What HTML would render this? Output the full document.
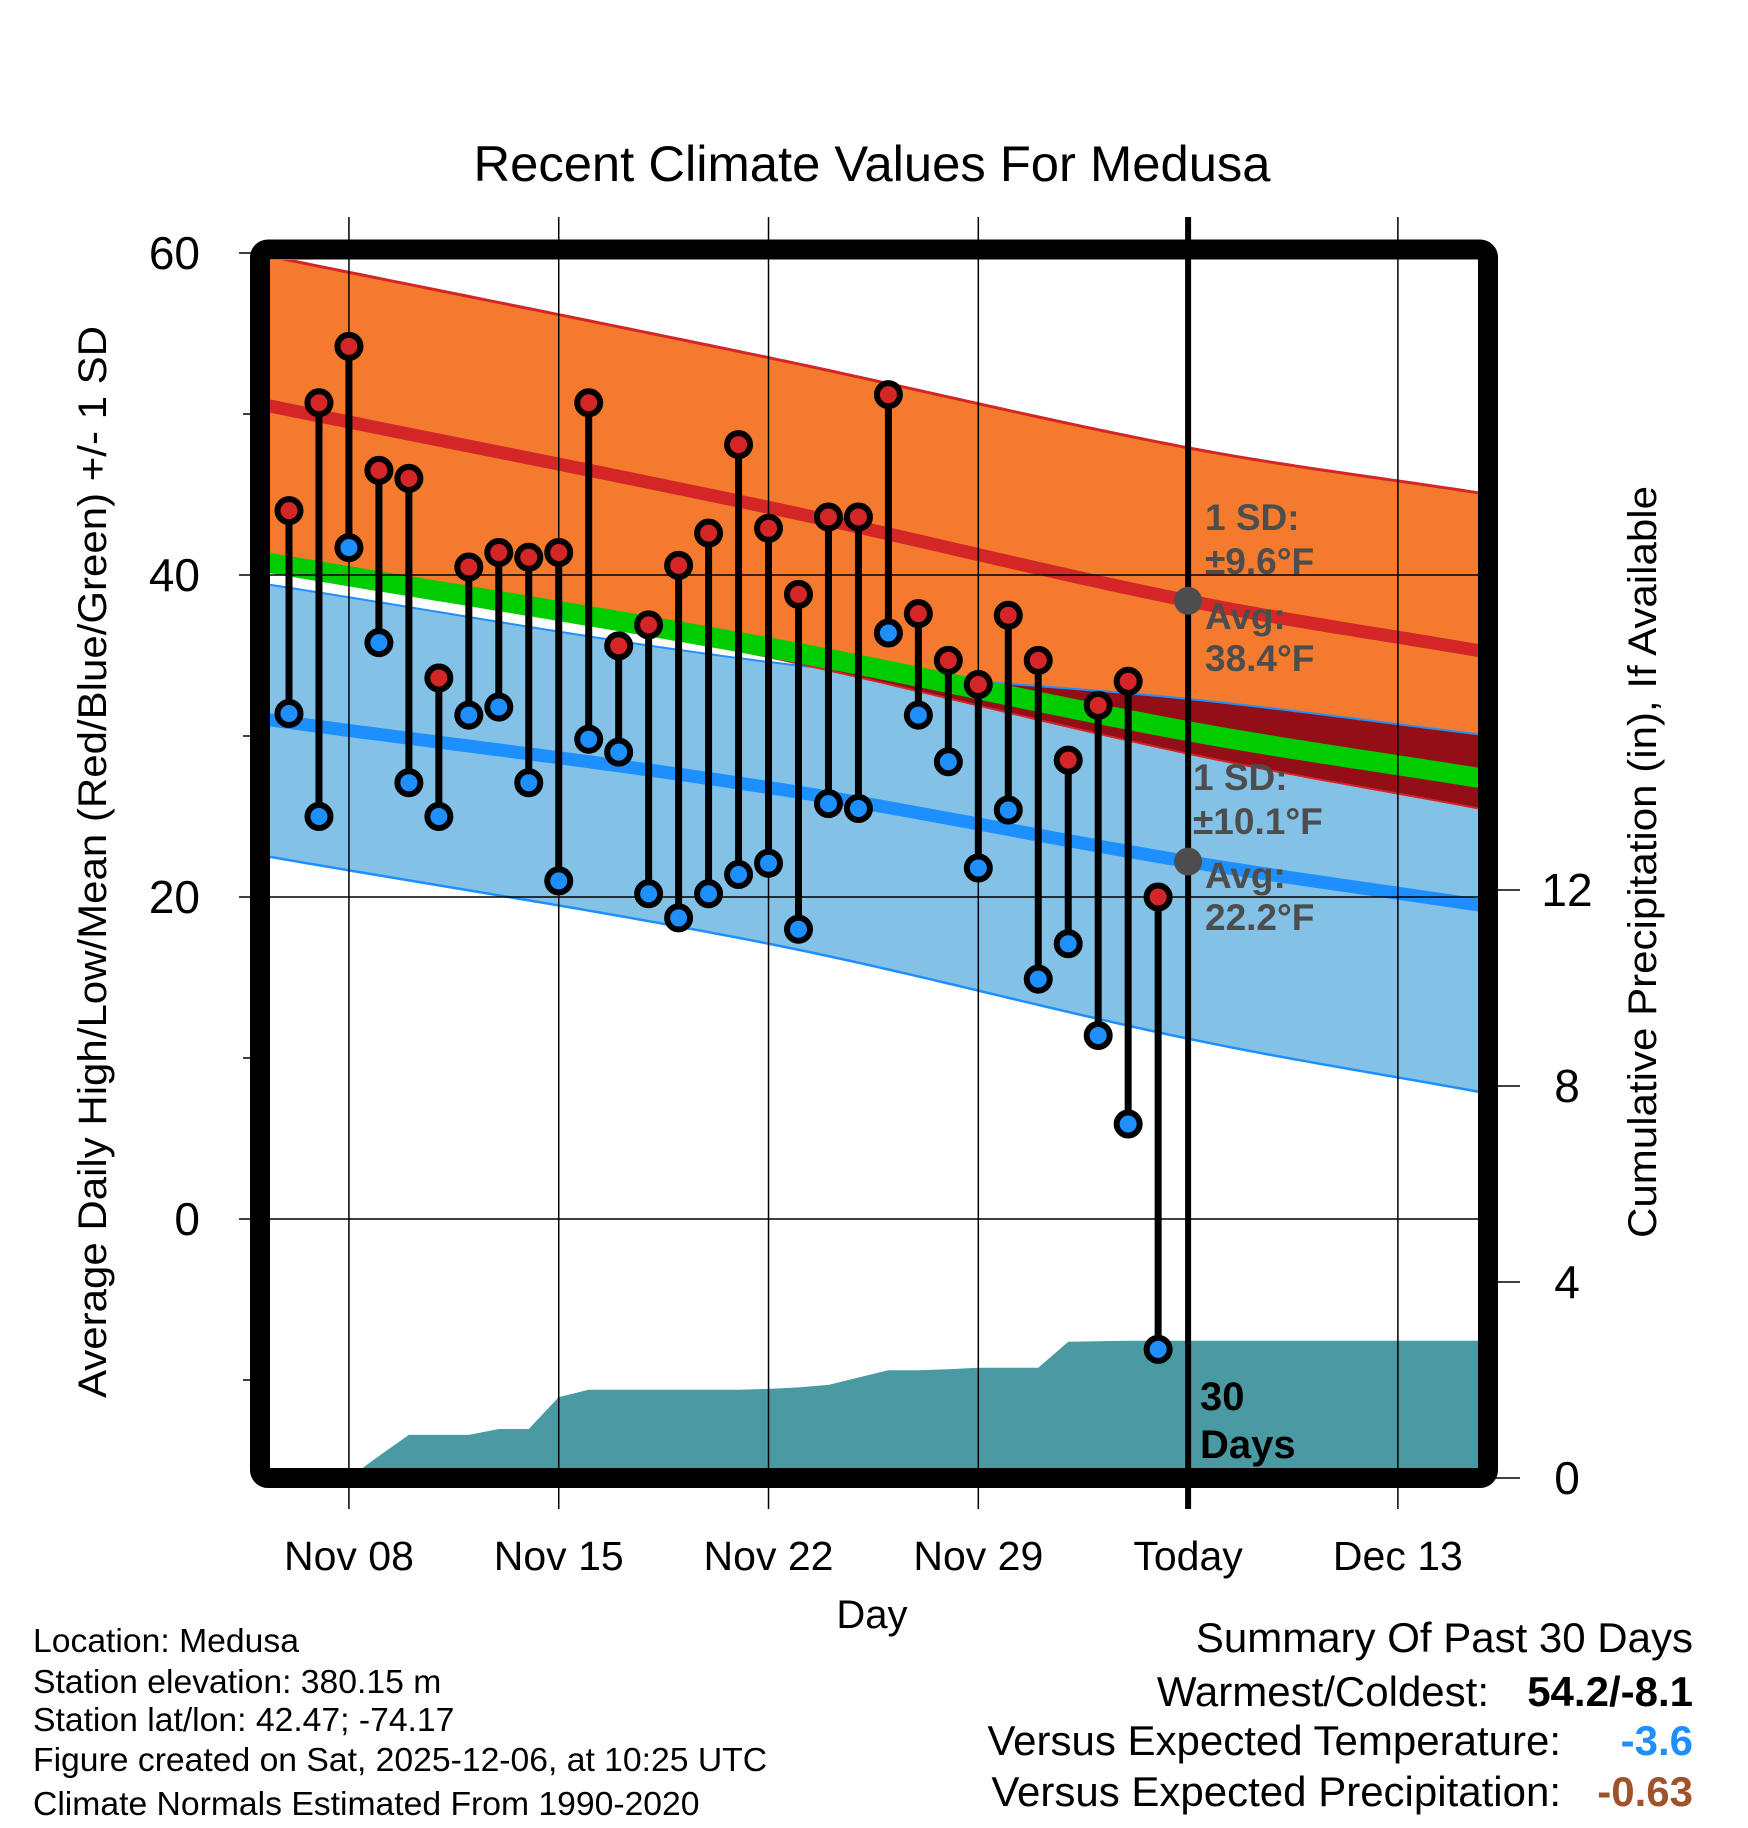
<!DOCTYPE html>
<html><head><meta charset="utf-8"><style>
html,body{margin:0;padding:0;background:#fff;}
svg{display:block;font-family:"Liberation Sans",Arial,sans-serif;}
</style></head><body>
<svg id="chart" width="1748" height="1828" viewBox="0 0 1748 1828">
<defs><clipPath id="plotclip"><rect x="270" y="260" width="1208" height="1208"/></clipPath></defs>
<g id="plot" clip-path="url(#plotclip)"></g>
<g id="over"></g>
</svg>
<script>
// ---- data ----
const dayLabels = ["Nov 08","Nov 15","Nov 22","Nov 29","Today","Dec 13"];
const dayLabelIdx = [2,9,16,23,30,37];
const highs = [44.0,50.7,54.2,46.5,46.0,33.6,40.5,41.4,41.1,41.4,50.7,35.6,36.9,40.6,42.6,48.1,42.9,38.8,43.6,43.6,51.2,37.6,34.7,33.2,37.5,34.7,28.5,31.9,33.4,20.0];
const lows = [31.4,25.0,41.7,35.8,27.1,25.0,31.3,31.8,27.1,21.0,29.8,29.0,20.2,18.7,20.2,21.4,22.1,18.0,25.8,25.5,36.4,31.3,28.4,21.8,25.4,14.9,17.1,11.4,5.9,-8.1];
const precip = [0,0,0,0.45,0.88,0.88,0.88,1.0,1.0,1.65,1.8,1.8,1.8,1.8,1.8,1.8,1.82,1.85,1.9,2.05,2.2,2.2,2.22,2.25,2.25,2.25,2.78,2.79,2.8,2.8];
const normIdx = [-0.65,16,30,39.7];
const highMean = [50.5,44.2,38.4,35.3];
const highUpper = [59.8,53.5,47.9,45.1];
const lowMean = [31.0,26.8,22.2,19.5];
const lowUpper = [39.4,34.6,32.3,30.1];
const lowLower = [22.5,17.1,11.2,7.9];
const yTicks = [0,20,40,60];
const yMinor = [-10,10,30,50];
const pTicks = [0,4,8,12];

// ---- scales ----
const X = d => 289 + d*29.97;
const Y = t => 1219 - t*16.1;
const P = p => 1478 - p*49.0;
const NS="http://www.w3.org/2000/svg";
const plot=document.getElementById('plot'), over=document.getElementById('over');
function mk(parent,tag,attrs,txt){const e=document.createElementNS(NS,tag);for(const k in attrs)e.setAttribute(k,attrs[k]);if(txt!==undefined)e.textContent=txt;parent.appendChild(e);return e;}
function interp(arr,d){
  const n=normIdx.length;
  let i=0;while(i<n-2&&d>normIdx[i+1])i++;
  const x0=normIdx[i],x1=normIdx[i+1],t=(d-x0)/(x1-x0);
  const slope=k=>{if(k<=0)return (arr[1]-arr[0])/(normIdx[1]-normIdx[0]);if(k>=n-1)return (arr[n-1]-arr[n-2])/(normIdx[n-1]-normIdx[n-2]);return (arr[k+1]-arr[k-1])/(normIdx[k+1]-normIdx[k-1]);};
  const h=x1-x0,m0=slope(i)*h,m1=slope(i+1)*h,t2=t*t,t3=t2*t;
  return (2*t3-3*t2+1)*arr[i]+(t3-2*t2+t)*m0+(-2*t3+3*t2)*arr[i+1]+(t3-t2)*m1;
}
const samples=[];for(let d=-0.7;d<=39.8;d+=0.25)samples.push(d);
const hm=d=>interp(highMean,d), hu=d=>interp(highUpper,d), hl=d=>2*hm(d)-hu(d);
const lm=d=>interp(lowMean,d), lu=d=>interp(lowUpper,d), ll=d=>interp(lowLower,d);
function band(fTop,fBot){let a=samples.map(d=>X(d)+','+Y(fTop(d)));let b=samples.slice().reverse().map(d=>X(d)+','+Y(fBot(d)));return a.concat(b).join(' ');}
function line(f){return samples.map(d=>X(d)+','+Y(f(d))).join(' ');}

let e;
e=mk(plot,'polygon',{points:band(lu,ll),fill:'#83c1e7'});

e=mk(plot,'polygon',{points:band(hu,hl),fill:'#f47a2e'});

e=mk(plot,'polygon',{points:band(d=>Math.max(lu(d),hl(d)),hl),fill:'#930e16'});

e=mk(plot,'polyline',{points:line(lu),fill:'none',stroke:'#1e8fff','stroke-width':2});

e=mk(plot,'polyline',{points:line(ll),fill:'none',stroke:'#1e8fff','stroke-width':2.5});

e=mk(plot,'polyline',{points:line(hu),fill:'none',stroke:'#d42626','stroke-width':3});

e=mk(plot,'polyline',{points:line(hl),fill:'none',stroke:'#d42626','stroke-width':2});

e=mk(plot,'polyline',{points:line(d=>(hm(d)+lm(d))/2),fill:'none',stroke:'#00cc00','stroke-width':20});

e=mk(plot,'polyline',{points:line(hm),fill:'none',stroke:'#d42626','stroke-width':13});

e=mk(plot,'polyline',{points:line(lm),fill:'none',stroke:'#1e8fff','stroke-width':13});


// precip area
let pp=[X(-0.7)+','+P(0)];
precip.forEach((v,i)=>pp.push(X(i)+','+P(v)));
pp.push(X(39.8)+','+P(precip[precip.length-1]));pp.push(X(39.8)+','+P(0));
e=mk(plot,'polygon',{points:pp.join(' '),fill:'#4a9aa3'});


// grid
dayLabelIdx.forEach((d,i)=>{
  const g=mk(over,'line',{x1:X(d),x2:X(d),y1:217,y2:1509,stroke:'#000','stroke-width':i==4?6:1.5});
  
  const t=mk(over,'text',{x:X(d),y:1570,'font-size':41,'text-anchor':'middle'},dayLabels[i]);
  
});
yTicks.forEach(v=>{
  const g=mk(over,'line',{x1:239,x2:1478,y1:Y(v),y2:Y(v),stroke:'#000','stroke-width':1.5});
  
  const t=mk(over,'text',{x:200,y:Y(v)+16,'font-size':46,'text-anchor':'end'},String(v));
  
});
yMinor.forEach(v=>{
  const g=mk(over,'line',{x1:243,x2:256,y1:Y(v),y2:Y(v),stroke:'#000','stroke-width':1.5});
  
});
pTicks.forEach(v=>{
  const g=mk(over,'line',{x1:1490,x2:1520,y1:P(v),y2:P(v),stroke:'#000','stroke-width':1.5});
  
  const t=mk(over,'text',{x:1567,y:P(v)+16,'font-size':46,'text-anchor':'middle'},String(v));
  
});

// annotations
function txt(x,y,s,name,extra){const t=mk(over,'text',Object.assign({x:x,y:y},extra||{}),s);return t;}
const ga={'font-size':37,'font-weight':'bold',fill:'#4d4d4d'};
txt(1205,530,'1 SD:','high-sd-label',ga);
txt(1205,574,'±9.6°F','high-sd-value',ga);
txt(1205,629,'Avg:','high-avg-label',ga);
txt(1205,671,'38.4°F','high-avg-value',ga);
txt(1193,790,'1 SD:','low-sd-label',ga);
txt(1193,834,'±10.1°F','low-sd-value',ga);
txt(1205,888,'Avg:','low-avg-label',ga);
txt(1205,930,'22.2°F','low-avg-value',ga);
e=mk(over,'circle',{cx:X(30),cy:Y(38.4),r:14,fill:'#4d4d4d'});

e=mk(over,'circle',{cx:X(30),cy:Y(22.2),r:14,fill:'#4d4d4d'});

txt(1200,1410,'30','days-label',{'font-size':40,'font-weight':'bold'});
txt(1200,1458,'Days','days-label-2',{'font-size':40,'font-weight':'bold'});

// stems & points
highs.forEach((h,i)=>{
  const s=mk(over,'line',{x1:X(i),x2:X(i),y1:Y(h),y2:Y(lows[i]),stroke:'#000','stroke-width':7});
  
});
highs.forEach((h,i)=>{
  const c=mk(over,'circle',{cx:X(i),cy:Y(h),r:11.5,fill:'#d42626',stroke:'#000','stroke-width':6});
  
  const c2=mk(over,'circle',{cx:X(i),cy:Y(lows[i]),r:11.5,fill:'#1e8fff',stroke:'#000','stroke-width':6});
  
});

// frame
e=mk(over,'rect',{x:260,y:249.5,width:1228,height:1228.5,rx:8,fill:'none',stroke:'#000','stroke-width':20});


// titles
txt(872,181,'Recent Climate Values For Medusa','chart-title',{'font-size':50,'text-anchor':'middle',textLength:797,lengthAdjust:'spacingAndGlyphs'});
txt(872,1628,'Day','x-axis-title',{'font-size':40,'text-anchor':'middle'});
txt(0,0,'Average Daily High/Low/Mean (Red/Blue/Green) +/- 1 SD','y-axis-title',{'font-size':40,'text-anchor':'middle',transform:'translate(106,862) rotate(-90)',textLength:1072,lengthAdjust:'spacingAndGlyphs'});
txt(0,0,'Cumulative Precipitation (in), If Available','precip-axis-title',{'font-size':40,'text-anchor':'middle',transform:'translate(1656,862) rotate(-90)',textLength:752,lengthAdjust:'spacingAndGlyphs'});

const info=['Location: Medusa','Station elevation: 380.15 m','Station lat/lon: 42.47; -74.17','Figure created on Sat, 2025-12-06, at 10:25 UTC','Climate Normals Estimated From 1990-2020'];
const infoY=[1652,1693,1731,1771,1815];
info.forEach((s,i)=>txt(33,infoY[i],s,'station-info-line',{'font-size':33.7}));

const sa={'font-size':42,'text-anchor':'end'};
txt(1693,1652,'Summary Of Past 30 Days','summary-title',sa);
txt(1489,1706,'Warmest/Coldest:','warmest-coldest-label',sa);
txt(1693,1706,'54.2/-8.1','warmest-coldest-value',{'font-size':42,'text-anchor':'end','font-weight':'bold'});
txt(1561,1755,'Versus Expected Temperature:','temp-anomaly-label',sa);
txt(1693,1755,'-3.6','temp-anomaly-value',{'font-size':42,'text-anchor':'end','font-weight':'bold',fill:'#1e8fff'});
txt(1561,1806,'Versus Expected Precipitation:','precip-anomaly-label',sa);
txt(1693,1806,'-0.63','precip-anomaly-value',{'font-size':42,'text-anchor':'end','font-weight':'bold',fill:'#a0522d'});
</script>
</body></html>
